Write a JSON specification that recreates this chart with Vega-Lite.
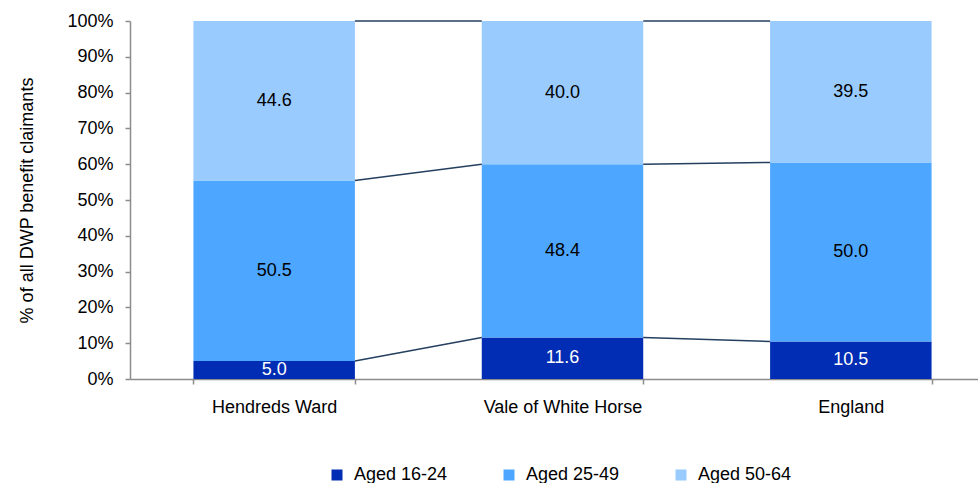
{
  "$schema": "https://vega.github.io/schema/vega-lite/v6.json",
  "width": 845,
  "height": 358,
  "autosize": {"type": "none"},
  "padding": {"left": 130, "top": 21, "right": 3, "bottom": 104},
  "datasets": {
    "shares": [
      {"area": "Hendreds Ward", "age": "Aged 16-24", "value": 5.0},
      {"area": "Hendreds Ward", "age": "Aged 25-49", "value": 50.5},
      {"area": "Hendreds Ward", "age": "Aged 50-64", "value": 44.6},
      {"area": "Vale of White Horse", "age": "Aged 16-24", "value": 11.6},
      {"area": "Vale of White Horse", "age": "Aged 25-49", "value": 48.4},
      {"area": "Vale of White Horse", "age": "Aged 50-64", "value": 40.0},
      {"area": "England", "age": "Aged 16-24", "value": 10.5},
      {"area": "England", "age": "Aged 25-49", "value": 50.0},
      {"area": "England", "age": "Aged 50-64", "value": 39.5}
    ],
    "links": [
      {"from": "Hendreds Ward", "to": "Vale of White Horse", "y": 0.05, "y2": 0.116},
      {"from": "Hendreds Ward", "to": "Vale of White Horse", "y": 0.5544, "y2": 0.60},
      {"from": "Hendreds Ward", "to": "Vale of White Horse", "y": 1, "y2": 1},
      {"from": "Vale of White Horse", "to": "England", "y": 0.116, "y2": 0.105},
      {"from": "Vale of White Horse", "to": "England", "y": 0.60, "y2": 0.605},
      {"from": "Vale of White Horse", "to": "England", "y": 1, "y2": 1}
    ]
  },
  "config": {
    "view": {"stroke": null},
    "font": "Liberation Sans",
    "axis": {
      "labelFont": "Liberation Sans",
      "titleFont": "Liberation Sans",
      "labelFontSize": 18,
      "titleFontSize": 18,
      "titleFontWeight": "normal",
      "labelColor": "#000000",
      "titleColor": "#000000",
      "domainColor": "#8c8c8c",
      "tickColor": "#8c8c8c",
      "domainWidth": 1.5,
      "tickWidth": 1.5,
      "tickSize": 5,
      "grid": false,
      "labelOverlap": false
    },
    "axisY": {"tickCount": 11},
    "legend": {"labelFont": "Liberation Sans", "labelFontSize": 18, "labelColor": "#000000"}
  },
  "layer": [
    {
      "data": {"name": "shares"},
      "mark": {"type": "bar"},
      "encoding": {
        "x": {
          "field": "area",
          "type": "nominal",
          "sort": ["Hendreds Ward", "Vale of White Horse", "England"],
          "scale": {"domain": ["Hendreds Ward", "Vale of White Horse", "England"], "range": [0, 865], "paddingInner": 0.44, "paddingOuter": 0.22},
          "axis": {"title": null, "labelAngle": 0, "tickBand": "extent", "labelPadding": 14}
        },
        "y": {
          "field": "value",
          "type": "quantitative",
          "stack": "normalize",
          "scale": {"domain": [0, 1], "nice": false},
          "title": "% of all DWP benefit claimants",
          "axis": {"values": [0, 0.1, 0.2, 0.3, 0.4, 0.5, 0.6, 0.7, 0.8, 0.9, 1], "tickCount": 11, "format": ".0%", "labelPadding": 12, "titlePadding": 30, "labelOverlap": false}
        },
        "color": {
          "field": "age",
          "type": "nominal",
          "scale": {"domain": ["Aged 16-24", "Aged 25-49", "Aged 50-64"], "range": ["#002DB3", "#4DA6FF", "#99CBFF"]},
          "legend": {
            "title": null,
            "orient": "none",
            "direction": "horizontal",
            "legendX": 198,
            "legendY": 445,
            "columns": 3,
            "columnPadding": 52,
            "symbolType": "square",
            "symbolSize": 121,
            "symbolStrokeWidth": 0,
            "labelOffset": 8
          }
        },
        "order": {"field": "age", "sort": "ascending"}
      }
    },
    {
      "data": {"name": "shares"},
      "transform": [
        {"stack": "value", "groupby": ["area"], "sort": [{"field": "age", "order": "ascending"}], "offset": "normalize", "as": ["v0", "v1"]},
        {"calculate": "(datum.v0 + datum.v1) / 2", "as": "mid"}
      ],
      "mark": {"type": "text", "fontSize": 18, "font": "Liberation Sans", "baseline": "middle"},
      "encoding": {
        "x": {"field": "area", "type": "nominal", "sort": ["Hendreds Ward", "Vale of White Horse", "England"]},
        "y": {
          "field": "mid",
          "type": "quantitative",
          "title": "% of all DWP benefit claimants",
          "axis": {"values": [0, 0.1, 0.2, 0.3, 0.4, 0.5, 0.6, 0.7, 0.8, 0.9, 1], "tickCount": 11, "format": ".0%", "labelPadding": 12, "titlePadding": 30, "labelOverlap": false}
        },
        "text": {"field": "value", "type": "quantitative", "format": ".1f"},
        "color": {"condition": {"test": "datum.age === 'Aged 16-24'", "value": "#ffffff"}, "value": "#000000"}
      }
    },
    {
      "data": {"name": "links"},
      "mark": {"type": "rule", "color": "#243F60", "strokeWidth": 1.5},
      "encoding": {
        "x": {"field": "from", "type": "nominal", "bandPosition": 1, "sort": ["Hendreds Ward", "Vale of White Horse", "England"]},
        "x2": {"field": "to", "bandPosition": 0},
        "y": {
          "field": "y",
          "type": "quantitative",
          "title": "% of all DWP benefit claimants",
          "axis": {"values": [0, 0.1, 0.2, 0.3, 0.4, 0.5, 0.6, 0.7, 0.8, 0.9, 1], "tickCount": 11, "format": ".0%", "labelPadding": 12, "titlePadding": 30, "labelOverlap": false}
        },
        "y2": {"field": "y2"}
      }
    }
  ]
}
